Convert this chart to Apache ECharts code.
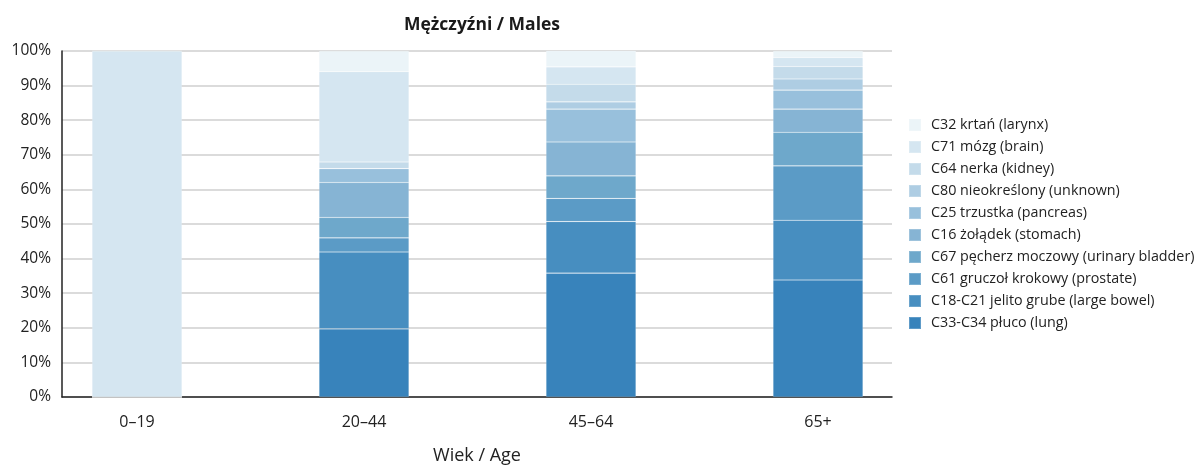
<!DOCTYPE html>
<html>
<head>
<meta charset="utf-8">
<script src="https://cdn.jsdelivr.net/npm/echarts@6/dist/echarts.min.js"></script>
<style>
  html, body { margin: 0; padding: 0; background: #fff; }
  #chart { width: 1201px; height: 465px; }
</style>
</head>
<body>
<div id="chart"></div>
<script>
// age groups on the x axis
const ageGroups = ['0–19', '20–44', '45–64', '65+']

// series names, bottom of the stack first
const seriesNames = [
  'C33-C34 płuco (lung)',
  'C18-C21 jelito grube (large bowel)',
  'C61 gruczoł krokowy (prostate)',
  'C67 pęcherz moczowy (urinary bladder)',
  'C16 żołądek (stomach)',
  'C25 trzustka (pancreas)',
  'C80 nieokreślony (unknown)',
  'C64 nerka (kidney)',
  'C71 mózg (brain)',
  'C32 krtań (larynx)'
]

// share in % per age group, same order as ageGroups
const lung     = [0, 19.7, 35.8, 33.8]
const bowel    = [0, 22.2, 14.9, 17.3]
const prostate = [0, 4.1, 6.7, 15.7]
const bladder  = [0, 5.9, 6.5, 9.7]
const stomach  = [0, 10.1, 9.8, 6.7]
const pancreas = [0, 4.0, 9.5, 5.5]
const unknown  = [0, 0, 2.1, 3.2]
const kidney   = [0, 1.9, 5.1, 3.6]
const brain    = [100, 26.1, 5.0, 2.6]
const larynx   = [0, 6.0, 4.8, 1.9]

const seriesValues = [lung, bowel, prostate, bladder, stomach, pancreas, unknown, kidney, brain, larynx]

const colors = [
  '#3883bb', '#478ec0', '#5b9bc6', '#6ea8cb', '#86b4d4',
  '#98c0dc', '#aecde3', '#c4dbea', '#d5e6f1', '#ebf4f8'
]

const yTicks = [0, 10, 20, 30, 40, 50, 60, 70, 80, 90, 100]

const font = '"Open Sans", "Noto Sans", sans-serif'

const chart = echarts.init(document.getElementById('chart'), null, { renderer: 'canvas' })

const option = {
  animation: false,
  textStyle: { fontFamily: font },
  title: {
    text: 'Mężczyźni / Males',
    left: 477,
    top: 11,
    textAlign: 'center',
    textStyle: { fontSize: 17.5, fontWeight: 'bold', color: '#1a1a1a', fontFamily: font }
  },
  // grid 0 holds the bars, grid 1 draws the visible frame and gridlines
  grid: [
    { left: 23.5, right: 269.5, top: 51, bottom: 68, outerBoundsMode: 'none' },
    { left: 62, right: 309, top: 51, bottom: 68, outerBoundsMode: 'none' }
  ],
  legend: {
    orient: 'vertical',
    left: 903,
    top: 113,
    itemWidth: 12,
    itemHeight: 12,
    itemGap: 8,
    icon: 'rect',
    data: seriesNames.slice().reverse(),
    textStyle: { fontSize: 14.3, color: '#222', fontFamily: font, padding: [0, 0, 0, 5] }
  },
  xAxis: [
    {
      type: 'category',
      gridIndex: 0,
      data: ageGroups,
      axisLine: { show: false },
      axisTick: { show: false },
      splitLine: { show: false },
      axisLabel: { color: '#222', fontSize: 16, margin: 17 }
    },
    {
      type: 'value',
      gridIndex: 1,
      min: 0,
      max: 1,
      name: 'Wiek / Age',
      nameLocation: 'middle',
      nameGap: 50,
      nameTextStyle: { fontSize: 18, color: '#222', fontFamily: font },
      axisLine: { show: true, lineStyle: { color: '#222', width: 1.5 } },
      axisTick: { show: false },
      axisLabel: { show: false },
      splitLine: { show: false }
    }
  ],
  yAxis: [
    {
      type: 'value',
      gridIndex: 0,
      min: yTicks[0],
      max: yTicks[yTicks.length - 1],
      show: false
    },
    {
      type: 'value',
      gridIndex: 1,
      min: yTicks[0],
      max: yTicks[yTicks.length - 1],
      interval: 10,
      axisLine: { show: true, lineStyle: { color: '#222', width: 1.5 } },
      axisTick: { show: false },
      splitLine: { lineStyle: { color: '#cfcfcf', width: 1.5 } },
      axisLabel: {
        color: '#222',
        fontSize: 15.5,
        margin: 11,
        formatter: '{value}%'
      }
    }
  ],
  series: seriesNames.map((name, s) => ({
    name,
    type: 'bar',
    xAxisIndex: 0,
    yAxisIndex: 0,
    stack: 'total',
    barWidth: 90,
    itemStyle: {
      color: colors[s],
      borderColor: 'rgba(255,255,255,0.2)',
      borderWidth: 0.6
    },
    data: seriesValues[s]
  }))
}

chart.setOption(option)
</script>
</body>
</html>
